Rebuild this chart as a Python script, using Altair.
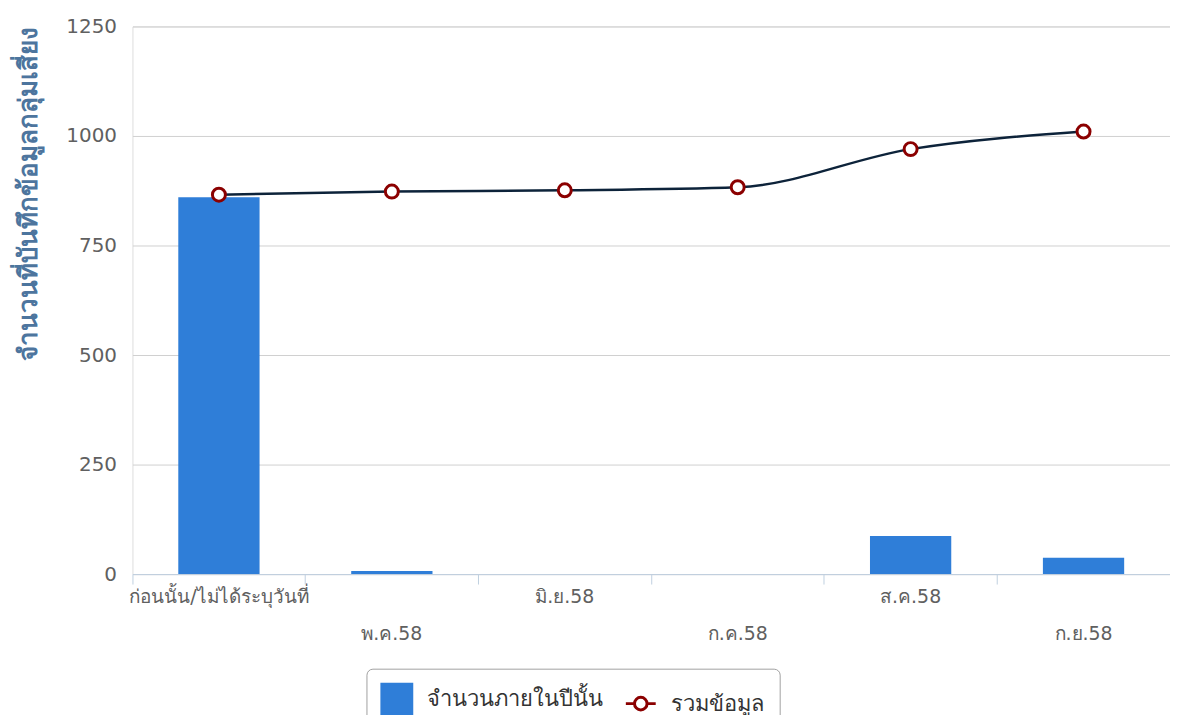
import altair as alt
import pandas as pd

categories = ["ก่อนนั้น/ไม่ได้ระบุวันที่", "พ.ค.58", "มิ.ย.58", "ก.ค.58", "ส.ค.58", "ก.ย.58"]
bar_values = [860, 7, 0, 0, 87, 37]
line_values = [866, 873, 876, 883, 970, 1010]
bar_name = "จำนวนภายในปีนั้น"
line_name = "รวมข้อมูล"
y_ticks = [0, 250, 500, 750, 1000, 1250]
y_title = "จำนวนที่บันทึกข้อมูลกลุ่มเสี่ยง"

FONT = "DejaVu Sans, Tahoma, sans-serif"

df_bar = pd.DataFrame({"month": categories, "value": bar_values, "series": bar_name})
df_line = pd.DataFrame({"month": categories, "value": line_values, "series": line_name})

second_row = categories[1::2]
label_expr = "indexof(" + str(second_row) + ", datum.value) >= 0 ? ['', datum.value] : datum.value"

x_scale = alt.Scale(paddingInner=0, paddingOuter=0)

x_enc = alt.X(
    "month:N",
    sort=categories,
    scale=x_scale,
    axis=alt.Axis(
        orient="bottom",
        title=None,
        labelAngle=0,
        labelExpr=label_expr,
        labelFontSize=19,
        labelColor="#606060",
        labelFont=FONT,
        labelPadding=14,
        labelLineHeight=37,
        labelBaseline="top",
        labelLimit=0,
        ticks=False,
        domainColor="#c0d0e0",
        domainWidth=1,
        grid=False,
        labelOverlap=False,
    ),
)

x_tick_enc = alt.X(
    "month:N",
    sort=categories,
    scale=x_scale,
    axis=alt.Axis(
        orient="bottom",
        title=None,
        labels=False,
        domain=False,
        grid=False,
        ticks=True,
        bandPosition=0,
        tickColor="#c0d0e0",
        tickSize=10,
        tickWidth=1,
    ),
)

y_enc = alt.Y(
    "value:Q",
    scale=alt.Scale(domain=[0, 1250], nice=False),
    axis=alt.Axis(
        values=y_ticks,
        format="d",
        title=y_title,
        titleFont=FONT,
        titleFontSize=26,
        titleFontWeight="bold",
        titleColor="#4d759e",
        titleAngle=270,
        titleX=-104,
        titleY=0,
        titleAlign="right",
        titleBaseline="middle",
        titleLimit=0,
        labelFontSize=20,
        labelFont=FONT,
        labelColor="#606060",
        labelPadding=16,
        ticks=False,
        domain=False,
        gridColor="#d0d0d0",
        gridWidth=1,
    ),
)

legend_line_path = (
    "M-1,0L-0.42,0M0.42,0L1,0"
    "M-0.42,0A0.42,0.42 0 1 1 0.42,0A0.42,0.42 0 1 1 -0.42,0Z"
)

fill_scale = alt.Scale(domain=[bar_name, line_name], range=["#2f7ed8", "#ffffff"])
stroke_scale = alt.Scale(domain=[bar_name, line_name], range=["#2f7ed8", "#8b0000"])
shape_scale = alt.Scale(domain=[bar_name, line_name], range=["square", legend_line_path])

legend = alt.Legend(
    title=None,
    orient="none",
    legendX=235,
    legendY=645,
    direction="horizontal",
    labelFontSize=22,
    labelFont=FONT,
    labelColor="#333333",
    labelLimit=0,
    symbolSize=900,
    symbolStrokeWidth=3,
    symbolOpacity=1,
    padding=14,
    strokeColor="#a0a0a0",
    cornerRadius=6,
    fillColor="#ffffff",
    columnPadding=16,
    labelOffset=14,
)

bars = alt.Chart(df_bar).mark_bar(strokeWidth=0, width=alt.RelativeBandSize(0.47)).encode(
    x=x_enc,
    y=y_enc,
    fill=alt.Fill("series:N", scale=fill_scale, legend=legend),
    stroke=alt.Stroke("series:N", scale=stroke_scale, legend=legend),
)

line = alt.Chart(df_line).mark_line(interpolate="monotone", color="#0d233a", strokeWidth=2.5).encode(
    x=x_enc, y=y_enc
)

points = alt.Chart(df_line).mark_point(
    filled=True, shape="circle", size=170, strokeWidth=3, opacity=1, fill="#ffffff", stroke="#8b0000"
).encode(x=x_enc, y=y_enc)

legend_layer = alt.Chart(df_line).mark_point(filled=True, opacity=0, size=1).encode(
    x=x_enc,
    y=y_enc,
    fill=alt.Fill("series:N", scale=fill_scale, legend=legend),
    stroke=alt.Stroke("series:N", scale=stroke_scale, legend=legend),
    shape=alt.Shape("series:N", scale=shape_scale, legend=legend),
)

tick_layer = alt.Chart(df_line).mark_point(opacity=0, size=1).encode(x=x_tick_enc, y=y_enc)

main = alt.layer(bars, line, points, legend_layer)

chart = (
    alt.layer(main, tick_layer)
    .resolve_axis(x="independent")
    .resolve_scale(x="shared")
    .properties(
        width=1042,
        height=550,
        autosize=alt.AutoSizeParams(type="none"),
        padding={"left": 125, "top": 17, "right": 0, "bottom": 140},
    )
    .configure_view(stroke=None)
    .configure(font=FONT)
)

chart.save("out.html", embed_options={"renderer": "svg", "actions": False})
